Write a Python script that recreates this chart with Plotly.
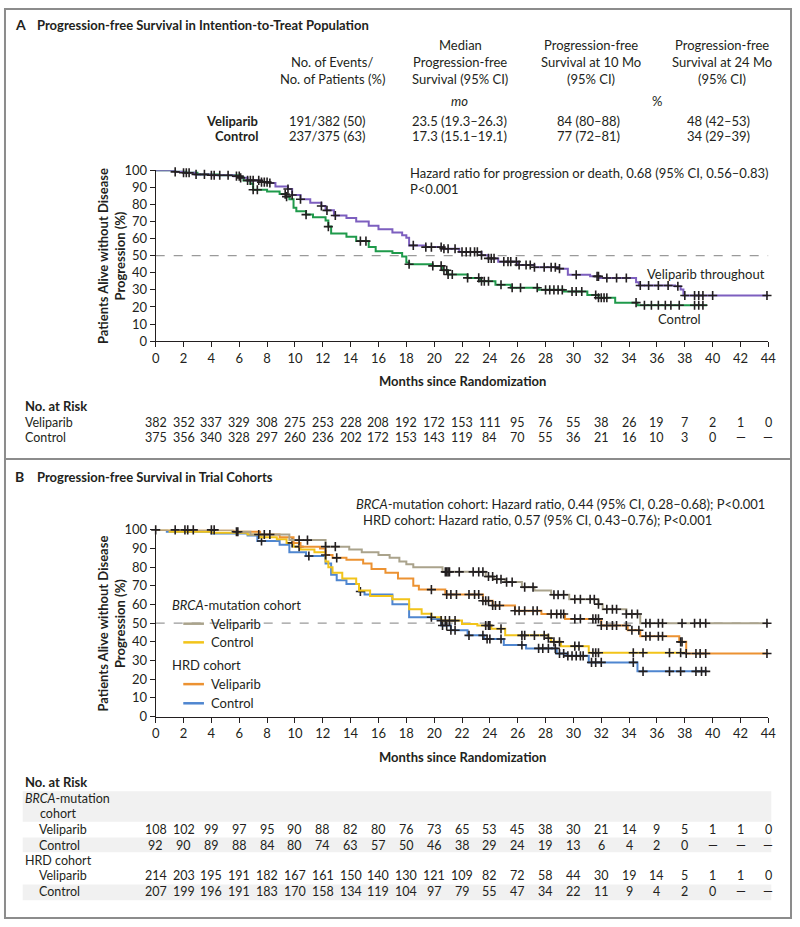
import plotly.graph_objects as go

W, H = 800, 927
FONT = "Lato"
TXT = "#231f20"

# ---------------- DATA ----------------
months = list(range(0, 46, 2))

# Panel A step curves (time, % progression-free)
a_vel_t = [0, 1.4, 2.0, 2.8, 4.0, 5.6, 6.1, 6.6, 7.5, 8.2, 8.6, 9.5, 9.8, 10.4, 11.1, 11.9, 12.2, 12.8,
           13.7, 14.4, 15.3, 16.0, 17.0, 17.7, 18.0, 18.2, 19.4, 20.6, 21.8, 23.4, 23.9, 24.6, 26.0,
           27.2, 28.9, 29.6, 31.2, 31.9, 34.5, 34.7, 37.3, 37.7, 37.9, 44.0]
a_vel_s = [100, 99, 98.5, 97.5, 97, 96.5, 95.5, 94, 93, 92.5, 90.5, 89, 85.5, 83, 81, 79, 76.5, 73.5,
           72, 70, 67.5, 65.5, 63.5, 62, 60.5, 56, 55, 54, 52.2, 50.3, 48.4, 46.5, 44.5,
           43.2, 42.4, 38.8, 37.9, 36.9, 34.4, 32.5, 32.1, 30.2, 26.7, 26.7]
a_ctl_t = [0, 1.4, 2.2, 3.0, 4.5, 6.0, 6.3, 6.8, 7.0, 8.0, 8.9, 9.4, 9.6, 9.9, 10.1, 10.8, 11.3, 12.2,
           12.4, 12.6, 13.7, 14.4, 15.3, 15.8, 17.0, 17.7, 18.0, 18.2, 19.9, 20.6, 21.0, 22.4, 23.3,
           24.4, 25.5, 27.5, 29.3, 31.0, 31.8, 33.0, 34.6, 39.6]
a_ctl_s = [100, 99, 98.5, 97.5, 97, 96, 94, 92, 88.5, 87.5, 86, 84.5, 83, 78, 76, 74, 72.5, 70.5,
           67, 63, 61, 58.5, 55, 52.5, 51.5, 49.5, 46, 45, 44, 41.5, 39, 37, 35,
           33, 31.2, 30, 29, 27, 25.4, 22.5, 21, 21]
a_vel_cens = [1.4, 2.0, 2.2, 2.4, 2.9, 3.5, 4.0, 4.2, 4.6, 5.2, 5.8, 6.0, 6.1, 6.6, 6.8, 7.0, 7.4, 7.6,
              7.8, 8.0, 8.2, 9.5, 9.8, 10.4, 11.9, 12.3, 12.9, 18.5, 19.4, 19.8, 20.5, 20.7, 21.0,
              21.5, 22.0, 22.3, 22.6, 22.9, 23.1, 23.4, 23.9, 24.1, 24.3, 25.0, 25.3, 25.5, 25.9,
              26.1, 26.6, 26.9, 27.2, 27.9, 28.4, 28.7, 29.0, 30.2, 31.7, 31.8, 32.4, 33.1, 33.8,
              34.8, 35.4, 36.1, 36.8, 37.5, 38.0, 38.7, 39.0, 39.3, 40.0, 43.9]
a_ctl_cens = [7.0, 7.3, 9.3, 9.4, 10.8, 12.4, 14.7, 15.1, 18.2, 19.9, 20.5, 20.7, 20.9, 21.0, 21.3,
              22.4, 23.2, 23.4, 23.6, 23.9, 24.8, 25.6, 26.2, 27.4, 28.0, 28.3, 28.6, 28.9, 29.2,
              29.9, 30.2, 30.6, 31.6, 31.8, 32.0, 32.2, 32.4, 34.5, 35.1, 35.6, 36.1, 36.6, 37.0,
              37.6, 38.7, 39.0, 39.3]

# Panel B step curves
b_brca_vel_t = [0, 5.5, 6.8, 9.6, 12.2, 13.9, 14.8, 16.0, 16.8, 17.5, 18.0, 18.5, 20.6, 23.7, 24.3,
                25.1, 26.3, 27.2, 28.4, 29.7, 31.8, 32.1, 33.8, 34.8, 44.0]
b_brca_vel_s = [100, 99, 97.5, 94.5, 91, 89.5, 88, 86.5, 85, 83, 81.5, 80, 77.5, 75, 73.5,
                72, 69.3, 67.5, 65.2, 62.8, 60.2, 57.5, 54.9, 50, 50]
b_brca_ctl_t = [0, 1.0, 4.0, 6.6, 7.5, 8.7, 9.4, 9.9, 10.4, 11.4, 12.2, 12.4, 12.7, 13.4, 14.4, 14.6,
                15.4, 17.0, 18.2, 19.1, 19.8, 20.5, 22.0, 23.1, 24.1, 25.1, 28.2, 28.4, 29.1, 31.1, 38.0]
b_brca_ctl_s = [100, 99, 98.5, 97.5, 96, 95, 93, 91, 89.5, 88, 83, 80, 77, 74, 71, 67.5,
                64.6, 62.8, 57.5, 55, 53.2, 51.4, 49.6, 48.8, 47, 43.5, 42, 40, 37.7, 34.2, 34.2]
b_hrd_vel_t = [0, 5.6, 7.5, 8.9, 9.9, 10.4, 11.8, 12.2, 12.7, 13.7, 14.9, 15.5, 16.5, 17.4, 18.5,
               18.9, 20.8, 23.5, 24.2, 25.8, 27.7, 29.4, 32.0, 33.9, 34.8, 37.6, 38.1, 44.0]
b_hrd_vel_s = [100, 99, 97.5, 96, 93, 91, 90, 86.5, 85, 84, 82, 79, 77, 74, 70,
               68, 65.4, 62, 59.5, 56.7, 54.9, 52.3, 48.8, 46.2, 43, 40, 33.8, 33.8]
b_hrd_ctl_t = [0, 0.8, 4.0, 6.6, 7.3, 8.9, 9.6, 10.8, 12.2, 12.6, 13.0, 13.7, 14.6, 15.0, 17.0,
               18.2, 19.8, 20.5, 21.2, 22.4, 23.6, 25.0, 26.6, 28.8, 29.5, 31.1, 34.6, 39.6]
b_hrd_ctl_s = [100, 99, 98, 97, 94, 92, 88, 86, 82, 76, 73, 71, 67, 65.4, 60.2,
               53.2, 52.3, 48.8, 46.2, 43.5, 41.5, 38.3, 36.5, 33.8, 32.5, 29, 24.2, 24.2]

b_brca_vel_cens = [0.0, 1.4, 2.1, 2.3, 2.7, 4.0, 4.2, 5.8, 5.9, 7.4, 7.8, 8.2, 10.3, 10.9, 12.2, 12.9,
                   20.8, 20.9, 21.0, 21.1, 21.8, 22.8, 23.2, 23.5, 23.9, 24.2, 24.5, 24.8, 25.2,
                   25.6, 26.5, 27.1, 28.6, 28.9, 29.3, 30.1, 30.5, 31.2, 31.5, 31.8, 32.4, 32.8,
                   33.1, 33.8, 34.2, 34.6, 35.2, 35.5, 36.1, 36.4, 37.8, 38.7, 39.1, 39.5, 43.9]
b_brca_ctl_cens = [9.8, 10.3, 19.8, 20.5, 20.8, 21.1, 21.5, 23.7, 23.9, 24.0, 24.8, 26.3, 26.5, 27.2,
                   27.9, 28.2, 28.6, 29.0, 30.1, 30.4, 31.4, 31.6, 31.8, 34.3, 35.0, 36.9, 37.7]
b_hrd_vel_cens = [12.2, 13.0, 19.8, 20.9, 21.2, 21.6, 22.5, 22.9, 23.2, 23.5, 23.7, 23.9, 24.2, 24.4,
                  24.7, 25.8, 26.1, 26.5, 27.1, 27.4, 28.4, 28.8, 29.1, 29.3, 30.1, 30.5, 31.4,
                  31.6, 31.8, 32.0, 32.4, 32.8, 33.1, 33.8, 34.2, 34.7, 35.2, 35.5, 36.1, 36.4,
                  37.7, 37.8, 38.1, 38.8, 39.1, 39.5, 43.9]
b_hrd_ctl_cens = [7.6, 11.0, 14.7, 20.6, 20.9, 21.2, 21.5, 22.5, 23.5, 23.8, 24.0, 24.8, 26.3, 27.5,
                  27.8, 28.2, 28.7, 29.0, 29.3, 29.6, 29.9, 30.2, 30.5, 30.7, 31.3, 31.6, 32.0,
                  34.3, 35.0, 36.9, 37.7, 38.8, 39.2, 39.5]

# At-risk tables
risk_a_vel = ["382", "352", "337", "329", "308", "275", "253", "228", "208", "192", "172", "153", "111",
              "95", "76", "55", "38", "26", "19", "7", "2", "1", "0"]
risk_a_ctl = ["375", "356", "340", "328", "297", "260", "236", "202", "172", "153", "143", "119", "84",
              "70", "55", "36", "21", "16", "10", "3", "0", "—", "—"]
risk_brca_vel = ["108", "102", "99", "97", "95", "90", "88", "82", "80", "76", "73", "65", "53", "45",
                 "38", "30", "21", "14", "9", "5", "1", "1", "0"]
risk_brca_ctl = ["92", "90", "89", "88", "84", "80", "74", "63", "57", "50", "46", "38", "29", "24",
                 "19", "13", "6", "4", "2", "0", "—", "—", "—"]
risk_hrd_vel = ["214", "203", "195", "191", "182", "167", "161", "150", "140", "130", "121", "109",
                "82", "72", "58", "44", "30", "19", "14", "5", "1", "1", "0"]
risk_hrd_ctl = ["207", "199", "196", "191", "183", "170", "158", "134", "119", "104", "97", "79",
                "55", "47", "34", "22", "11", "9", "4", "2", "0", "—", "—"]

# Summary table (panel A)
sum_rows = ["Veliparib", "Control"]
sum_events = ["191/382 (50)", "237/375 (63)"]
sum_median = ["23.5 (19.3–26.3)", "17.3 (15.1–19.1)"]
sum_pfs10 = ["84 (80–88)", "77 (72–81)"]
sum_pfs24 = ["48 (42–53)", "34 (29–39)"]

# Colours
C_PURPLE = "#7d5fbf"
C_GREEN = "#1f9a4b"
C_GRAY = "#aaa38c"
C_YELLOW = "#f2c41a"
C_ORANGE = "#ec9232"
C_BLUE = "#4f86d0"


def px(x):
    return x / W


def py(y):
    return 1 - y / H


def surv_at(ts, ss, x):
    v = ss[0]
    for t, s in zip(ts, ss):
        if t <= x:
            v = s
        else:
            break
    return v


fig = go.Figure()


def add_curve(ts, ss, cens, color, xa, ya):
    fig.add_trace(go.Scatter(x=ts, y=ss, mode="lines", line=dict(color=color, width=2, shape="hv"),
                             xaxis=xa, yaxis=ya, showlegend=False, hoverinfo="skip", cliponaxis=False))
    fig.add_trace(go.Scatter(x=cens, y=[surv_at(ts, ss, c) for c in cens], mode="markers",
                             marker=dict(symbol="cross-thin", size=6.5, line=dict(color="#231f20", width=1.6)),
                             xaxis=xa, yaxis=ya, showlegend=False, hoverinfo="skip", cliponaxis=False))


add_curve(a_ctl_t, a_ctl_s, a_ctl_cens, C_GREEN, "x", "y")
add_curve(a_vel_t, a_vel_s, a_vel_cens, C_PURPLE, "x", "y")
add_curve(b_hrd_ctl_t, b_hrd_ctl_s, b_hrd_ctl_cens, C_BLUE, "x2", "y2")
add_curve(b_brca_ctl_t, b_brca_ctl_s, b_brca_ctl_cens, C_YELLOW, "x2", "y2")
add_curve(b_hrd_vel_t, b_hrd_vel_s, b_hrd_vel_cens, C_ORANGE, "x2", "y2")
add_curve(b_brca_vel_t, b_brca_vel_s, b_brca_vel_cens, C_GRAY, "x2", "y2")

axis_common = dict(showgrid=False, zeroline=False, showline=True, linecolor="#231f20", linewidth=1,
                   ticks="outside", ticklen=5, tickwidth=1, tickcolor="#231f20",
                   tickfont=dict(family=FONT, size=13, color=TXT))
x_dom = [px(154), px(776)]
fig.update_layout(
    width=W, height=H, autosize=False, margin=dict(l=0, r=0, t=0, b=0, pad=0),
    paper_bgcolor="white", plot_bgcolor="rgba(0,0,0,0)",
    font=dict(family=FONT, color=TXT, size=13),
    xaxis=dict(domain=x_dom, range=[0, 44], tickvals=months, anchor="y", **axis_common),
    yaxis=dict(domain=[py(339), py(165)], range=[0, 100], dtick=10, anchor="x", **axis_common),
    xaxis2=dict(domain=x_dom, range=[0, 44], tickvals=months, anchor="y2", **axis_common),
    yaxis2=dict(domain=[py(721), py(531)], range=[0, 100], dtick=10, anchor="x2", **axis_common),
)

shapes = []
# outer frame and separator
shapes.append(dict(type="rect", xref="paper", yref="paper", x0=px(1), x1=px(799), y0=py(926), y1=py(1),
                   line=dict(color="#8c8c8c", width=2), layer="above"))
shapes.append(dict(type="line", xref="paper", yref="paper", x0=px(1), x1=px(799), y0=py(459), y1=py(459),
                   line=dict(color="#8c8c8c", width=2)))
# dashed 50% reference lines
for xr, yr in (("x", "y"), ("x2", "y2")):
    shapes.append(dict(type="line", xref=xr, yref=yr, x0=0, x1=44, y0=50, y1=50,
                       line=dict(color="#9a9a9a", width=1.3, dash="dash"), layer="below"))
# white gap behind legend entry crossing the dashed line
shapes.append(dict(type="rect", xref="paper", yref="paper", x0=px(177), x1=px(262), y0=py(634), y1=py(619),
                   fillcolor="white", line=dict(width=0), layer="below"))
# table bands panel B
for y0, y1 in ((797, 828), (844, 859), (892, 908)):
    shapes.append(dict(type="rect", xref="paper", yref="paper", x0=px(19), x1=px(779), y0=py(y1), y1=py(y0),
                       fillcolor="#f1f1f1", line=dict(width=0), layer="below"))
# legend swatches panel B
for yy, col in ((626.5, C_GRAY), (645.5, C_YELLOW), (688, C_ORANGE), (707.5, C_BLUE)):
    shapes.append(dict(type="line", xref="paper", yref="paper", x0=px(182), x1=px(203), y0=py(yy), y1=py(yy),
                       line=dict(color=col, width=2.5)))
fig.update_layout(shapes=shapes)

ann = []


def text(x, y, s, size=13, anchor="left", bold=False, italic=False, **kw):
    if bold:
        s = "<b>" + s + "</b>"
    if italic:
        s = "<i>" + s + "</i>"
    ann.append(dict(x=px(x), y=py(y), xref="paper", yref="paper", text=s, showarrow=False,
                    xanchor=anchor, yanchor="middle", font=dict(family=FONT, size=size, color=TXT), **kw))


# Panel A title
text(9, 17, "A", size=14, bold=True)
text(31, 17, "Progression-free Survival in Intention-to-Treat Population", size=13, bold=True)
# header table
hdr = [(333, ["No. of Events/", "No. of Patients (%)"], [55, 72]),
       (463, ["Median", "Progression-free", "Survival (95% CI)"], [38, 55, 72]),
       (596, ["Progression-free", "Survival at 10 Mo", "(95% CI)"], [38, 55, 72]),
       (729, ["Progression-free", "Survival at 24 Mo", "(95% CI)"], [38, 55, 72])]
for cx, lines, ys in hdr:
    for l, yy in zip(lines, ys):
        text(cx, yy, l, size=13, anchor="center")
text(462, 95, "mo", size=13, anchor="center", italic=True)
text(663, 95, "%", size=13, anchor="center")
for i, yy in enumerate((115, 130)):
    text(260, yy, sum_rows[i], size=13, anchor="right", bold=True)
    text(328, yy, sum_events[i], size=13, anchor="center")
    text(462, yy, sum_median[i], size=13, anchor="center")
    text(593, yy, sum_pfs10[i], size=13, anchor="center")
    text(725, yy, sum_pfs24[i], size=13, anchor="center")

text(410, 168, "Hazard ratio for progression or death, 0.68 (95% CI, 0.56–0.83)", size=13)
text(410, 184, "P&lt;0.001", size=13)
text(775, 270.5, "Veliparib throughout", size=13, anchor="right")
text(710, 316, "Control", size=13, anchor="right")

# axis titles
for cy in (252, 626):
    ann.append(dict(x=px(109), y=py(cy), xref="paper", yref="paper",
                    text="<b>Patients Alive without Disease<br>Progression (%)</b>", showarrow=False,
                    textangle=-90, xanchor="center", yanchor="middle",
                    font=dict(family=FONT, size=13, color=TXT)))
text(465, 380, "Months since Randomization", size=13, anchor="center", bold=True)
text(465, 762, "Months since Randomization", size=13, anchor="center", bold=True)

RS = 12.5
# Panel A risk table
text(19, 405, "No. at Risk", size=13, bold=True)
text(19, 422, "Veliparib", size=RS)
text(19, 437.5, "Control", size=RS)
for row, yy in ((risk_a_vel, 422), (risk_a_ctl, 437.5)):
    for m, v in zip(months, row):
        ann.append(dict(x=m, y=py(yy), xref="x", yref="paper", text=v, showarrow=False,
                        xanchor="center", yanchor="middle", font=dict(family=FONT, size=RS, color=TXT)))

# Panel B title & HR text
text(9, 477, "B", size=14, bold=True)
text(31, 477, "Progression-free Survival in Trial Cohorts", size=13, bold=True)
text(775, 505, "<i>BRCA</i>-mutation cohort: Hazard ratio, 0.44 (95% CI, 0.28–0.68); P&lt;0.001", size=13,
     anchor="right")
text(362, 521, "HRD cohort: Hazard ratio, 0.57 (95% CI, 0.43–0.76); P&lt;0.001", size=13)
# legend text
text(169, 607, "<i>BRCA</i>-mutation cohort", size=13)
text(208, 626.5, "Veliparib", size=13)
text(208, 645.5, "Control", size=13)
text(169, 669, "HRD cohort", size=13)
text(208, 688, "Veliparib", size=13)
text(208, 707.5, "Control", size=13)

# Panel B risk table
text(19, 788, "No. at Risk", size=13, bold=True)
text(19, 804, "<i>BRCA</i>-mutation", size=RS)
text(55, 820, "cohort", size=RS, anchor="center")
text(33, 836, "Veliparib", size=RS)
text(33, 852, "Control", size=RS)
text(19, 867.5, "HRD cohort", size=RS)
text(33, 883, "Veliparib", size=RS)
text(33, 899.5, "Control", size=RS)
for row, yy in ((risk_brca_vel, 836), (risk_brca_ctl, 852), (risk_hrd_vel, 883), (risk_hrd_ctl, 899.5)):
    for m, v in zip(months, row):
        ann.append(dict(x=m, y=py(yy), xref="x2", yref="paper", text=v, showarrow=False,
                        xanchor="center", yanchor="middle", font=dict(family=FONT, size=RS, color=TXT)))

fig.update_layout(annotations=ann)
fig.write_html(
    "out.html",
    config={"displayModeBar": False, "responsive": False},
    post_script=(
        "document.documentElement.style.margin='0';document.documentElement.style.padding='0';"
        "document.body.style.margin='0';document.body.style.padding='0';"
        "document.documentElement.style.overflow='hidden';document.body.style.overflow='hidden';"
        "var gd=document.getElementById('{plot_id}');gd.style.position='absolute';"
        "gd.style.left='0px';gd.style.top='0px';"
    ),
)
